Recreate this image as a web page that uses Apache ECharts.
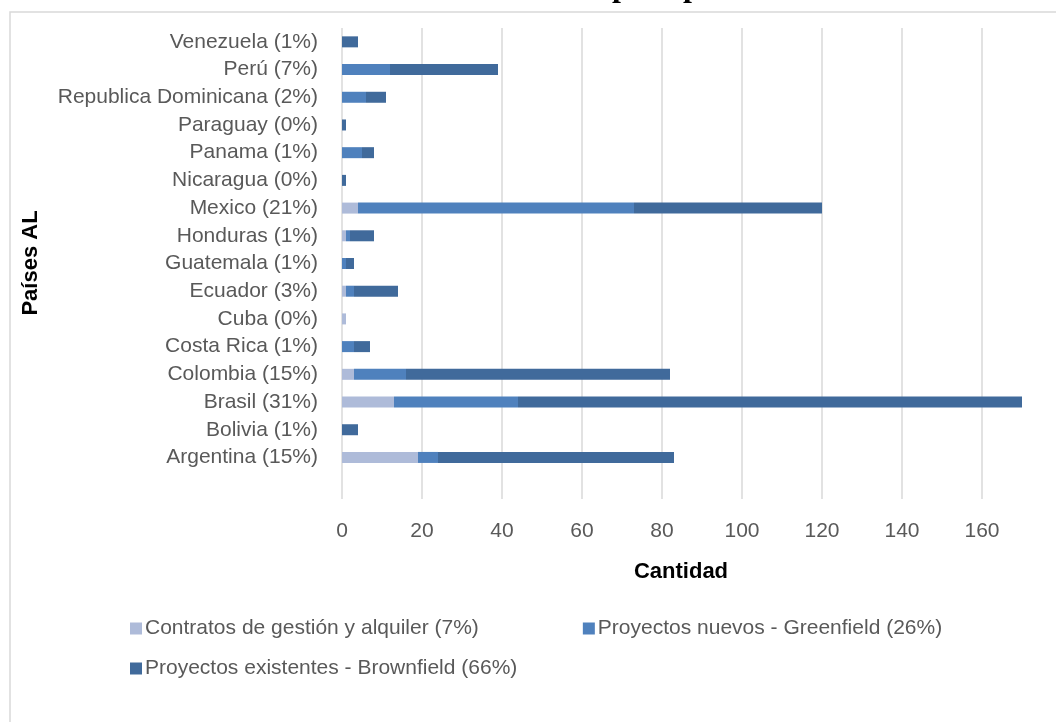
<!DOCTYPE html>
<html>
<head>
<meta charset="utf-8">
<script src="https://cdn.jsdelivr.net/npm/echarts@6/dist/echarts.min.js"></script>
<style>
  html, body { margin: 0; padding: 0; background: #ffffff; }
  #chart { width: 1056px; height: 722px; }
</style>
</head>
<body>
<div id="chart"></div>
<script>
// Countries (bottom to top); the blank first slot leaves an empty row under Argentina
const countries = ['', 'Argentina (15%)', 'Bolivia (1%)', 'Brasil (31%)', 'Colombia (15%)', 'Costa Rica (1%)',
  'Cuba (0%)', 'Ecuador (3%)', 'Guatemala (1%)', 'Honduras (1%)', 'Mexico (21%)', 'Nicaragua (0%)',
  'Panama (1%)', 'Paraguay (0%)', 'Republica Dominicana (2%)', 'Perú (7%)', 'Venezuela (1%)'];

const contratos  = [null, 19, 0, 13, 3, 0, 1, 1, 0, 1, 4, 0, 0, 0, 0, 0, 0];
const greenfield = [null, 5, 0, 31, 13, 3, 0, 2, 1, 1, 69, 0, 5, 0, 6, 12, 0];
const brownfield = [null, 59, 4, 126, 66, 4, 0, 11, 2, 6, 47, 1, 3, 1, 5, 27, 4];

const seriesNames = ['Contratos de gestión y alquiler (7%)', 'Proyectos nuevos - Greenfield (26%)',
  'Proyectos existentes - Brownfield (66%)'];
const xTicks = { min: 0, max: 180, step: 20 };

const FONT = 'Liberation Sans, Arial, sans-serif';
const GREY = '#595959';
const colors = ['#AEBBD9', '#4F81BD', '#406A9B'];

const chart = echarts.init(document.getElementById('chart'), null, { renderer: 'canvas' });

const mkSeries = (name, data, color) => ({
  name, type: 'bar', stack: 'total', data, barWidth: 11,
  itemStyle: { color }, emphasis: { disabled: true }
});

chart.setOption({
  animation: false,
  color: colors,
  // plot area runs past the right edge of the page
  grid: { left: 342, top: 28, width: 720, height: 471, containLabel: false, outerBoundsMode: 'none' },
  xAxis: {
    type: 'value', min: xTicks.min, max: xTicks.max, interval: xTicks.step,
    axisLine: { show: false }, axisTick: { show: false },
    splitLine: { show: true, lineStyle: { color: '#D9D9D9', width: 1.5 } },
    axisLabel: { margin: 22, fontSize: 21, color: GREY, fontFamily: FONT, showMaxLabel: false }
  },
  yAxis: {
    type: 'category', data: countries,
    axisLine: { show: false }, axisTick: { show: false }, splitLine: { show: false },
    axisLabel: { margin: 24, fontSize: 21, color: GREY, fontFamily: FONT }
  },
  legend: [
    {
      data: seriesNames.slice(0, 2), left: 125, top: 613, orient: 'horizontal',
      icon: 'rect', itemWidth: 12, itemHeight: 12, itemGap: 104,
      textStyle: { fontSize: 21, color: GREY, fontFamily: FONT, padding: [0, 0, 0, -2] },
      selectedMode: false
    },
    {
      data: seriesNames.slice(2), left: 125, top: 653, orient: 'horizontal',
      icon: 'rect', itemWidth: 12, itemHeight: 12,
      textStyle: { fontSize: 21, color: GREY, fontFamily: FONT, padding: [0, 0, 0, -2] },
      selectedMode: false
    }
  ],
  graphic: [
    // chart frame
    { type: 'rect', z: -1, shape: { x: 10, y: 12, width: 1200, height: 900 },
      style: { fill: 'none', stroke: '#D9D9D9', lineWidth: 1.5 } },
    // axis titles
    { type: 'text', x: 681, y: 572,
      style: { text: 'Cantidad', font: 'bold 22px ' + FONT, fill: '#000000', align: 'center', verticalAlign: 'middle' } },
    { type: 'text', x: 31, y: 263, rotation: Math.PI / 2,
      style: { text: 'Países AL', font: 'bold 22px ' + FONT, fill: '#000000', align: 'center', verticalAlign: 'middle' } },
    // heading letters above the frame (only their descenders fall inside the page)
    { type: 'text', x: 612, y: -28,
      style: { text: 'p', font: 'bold 32px Liberation Serif, serif', fill: '#000000', verticalAlign: 'top' } },
    { type: 'text', x: 683, y: -28,
      style: { text: 'p', font: 'bold 32px Liberation Serif, serif', fill: '#000000', verticalAlign: 'top' } }
  ],
  series: [
    mkSeries(seriesNames[0], contratos, colors[0]),
    mkSeries(seriesNames[1], greenfield, colors[1]),
    mkSeries(seriesNames[2], brownfield, colors[2])
  ]
});
</script>
</body>
</html>
